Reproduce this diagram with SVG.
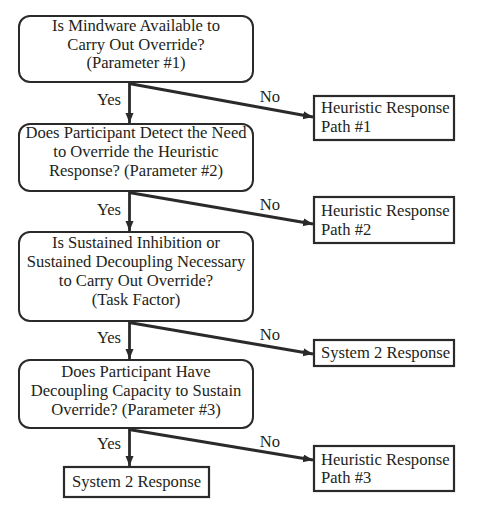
<svg xmlns="http://www.w3.org/2000/svg" width="490" height="508" viewBox="0 0 490 508">
<style>
.bg{fill:#ffffff}
.q{fill:#ffffff;stroke:#2a2a2a;stroke-width:2}
.r{fill:#ffffff;stroke:#2a2a2a;stroke-width:2.2}
text{font-family:"Liberation Serif","Times New Roman",serif;font-size:16.6px;fill:#231f20}
.c{text-anchor:middle}
.e{stroke:#2a2a2a;stroke-width:2.8;fill:none}
</style>
<defs>
<marker id="ah" markerUnits="userSpaceOnUse" markerWidth="12" markerHeight="10" refX="10" refY="4" orient="auto">
<path d="M0,0 L10,4 L0,8 Z" fill="#2a2a2a"/>
</marker>
</defs>
<rect class="bg" x="0" y="0" width="490" height="508"/>
<g id="connectors">
<line class="e" x1="129.5" y1="82" x2="129.5" y2="123" marker-end="url(#ah)"/>
<line class="e" x1="129" y1="83.5" x2="313" y2="117" marker-end="url(#ah)"/>
<line class="e" x1="129.5" y1="191" x2="129.5" y2="231" marker-end="url(#ah)"/>
<line class="e" x1="129" y1="192.5" x2="313" y2="224" marker-end="url(#ah)"/>
<line class="e" x1="129.5" y1="321" x2="129.5" y2="359" marker-end="url(#ah)"/>
<line class="e" x1="129" y1="322.5" x2="313" y2="354" marker-end="url(#ah)"/>
<line class="e" x1="129.5" y1="428" x2="129.5" y2="466" marker-end="url(#ah)"/>
<line class="e" x1="129" y1="429.5" x2="313" y2="460" marker-end="url(#ah)"/>
<text class="c" x="109" y="105">Yes</text>
<text class="c" x="270" y="102">No</text>
<text class="c" x="109" y="215">Yes</text>
<text class="c" x="270" y="210">No</text>
<text class="c" x="109" y="343">Yes</text>
<text class="c" x="270" y="340">No</text>
<text class="c" x="109" y="449">Yes</text>
<text class="c" x="270" y="447">No</text>
</g>
<g id="q1">
<rect class="q" x="19" y="16" width="234" height="66" rx="11"/>
<text class="c" x="136" y="31">Is Mindware Available to</text>
<text class="c" x="136" y="50">Carry Out Override?</text>
<text class="c" x="136" y="68">(Parameter #1)</text>
</g>
<g id="h1">
<rect class="r" x="314" y="96" width="140" height="44"/>
<text x="321" y="113">Heuristic Response</text>
<text x="321" y="132">Path #1</text>
</g>
<g id="q2">
<rect class="q" x="19" y="124" width="234" height="67" rx="11"/>
<text class="c" x="136" y="138">Does Participant Detect the Need</text>
<text class="c" x="136" y="157">to Override the Heuristic</text>
<text class="c" x="136" y="176">Response? (Parameter #2)</text>
</g>
<g id="h2">
<rect class="r" x="314" y="197" width="140" height="46"/>
<text x="321" y="216">Heuristic Response</text>
<text x="321" y="235">Path #2</text>
</g>
<g id="q3">
<rect class="q" x="19" y="232" width="234" height="89" rx="11"/>
<text class="c" x="136" y="248">Is Sustained Inhibition or</text>
<text class="c" x="136" y="267">Sustained Decoupling Necessary</text>
<text class="c" x="136" y="286">to Carry Out Override?</text>
<text class="c" x="136" y="305">(Task Factor)</text>
</g>
<g id="s1">
<rect class="r" x="314" y="340" width="140" height="26"/>
<text x="321" y="358">System 2 Response</text>
</g>
<g id="q4">
<rect class="q" x="19" y="360" width="234" height="68" rx="11"/>
<text class="c" x="136" y="377">Does Participant Have</text>
<text class="c" x="136" y="396">Decoupling Capacity to Sustain</text>
<text class="c" x="136" y="415">Override? (Parameter #3)</text>
</g>
<g id="h3">
<rect class="r" x="314" y="446" width="140" height="45"/>
<text x="321" y="465">Heuristic Response</text>
<text x="321" y="483">Path #3</text>
</g>
<g id="s2">
<rect class="r" x="64" y="467" width="145" height="30"/>
<text class="c" x="136.5" y="487">System 2 Response</text>
</g>
</svg>
